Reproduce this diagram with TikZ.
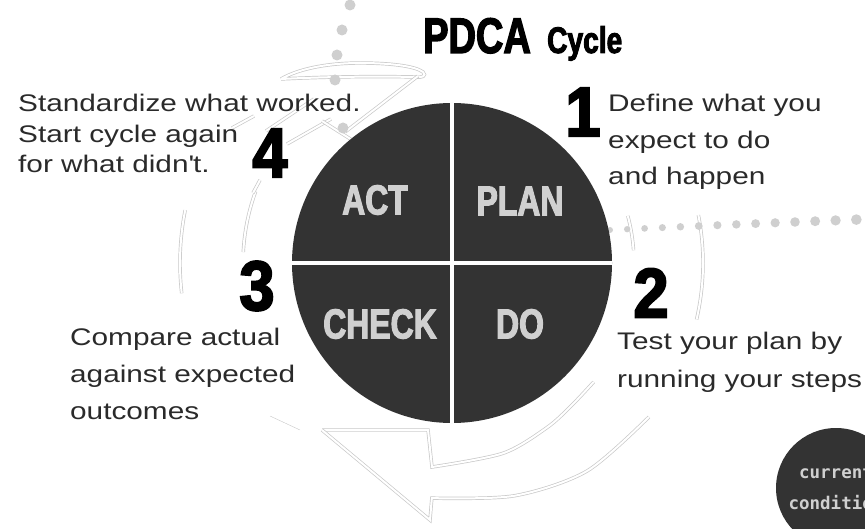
\documentclass[tikz,border=0pt]{standalone}
\usepackage{fontspec}
\usepackage{tikz}
\usetikzlibrary{calc}
\setmainfont{Liberation Sans}
\newfontfamily\bodyfont{Liberation Sans}[FakeStretch=1.24]
\newfontfamily\heavyfont{Liberation Sans}[FakeStretch=0.76,FakeBold=2.5]
\newfontfamily\digitfont{Liberation Sans}[FakeStretch=0.9,FakeBold=3]
\newfontfamily\chalkfont{DejaVu Sans Mono}

\definecolor{disc}{HTML}{333333}
\definecolor{caption}{HTML}{D0D0D0}
\definecolor{faint}{HTML}{C8C8C8}
\definecolor{dots}{HTML}{CFCFCF}
\definecolor{ink}{HTML}{2A2A2A}

\tikzset{
  swirl/.style={draw=faint, double=white, double distance=2pt, line width=.7pt},
  quarter/.style={text=caption, inner sep=0pt, font=\heavyfont\bfseries\fontsize{42}{42}\selectfont},
  stepnum/.style={inner sep=0pt, font=\digitfont\bfseries\fontsize{70}{70}\selectfont},
  note/.style={anchor=base west, align=left, text=ink, inner sep=0pt},
}

\begin{document}
\begin{tikzpicture}[x=1pt,y=-1pt]
  \useasboundingbox (0,0) rectangle (865,529);
  \clip (0,0) rectangle (865,529);
  \coordinate (c) at (452,263);

  % faded cycle arrows behind the disc
  \begin{scope}[shift={(c)}]
    \draw[swirl] (-130,167) -- (-24,167) -- plot[smooth] coordinates {(95.6:205) (75:197) (60:190) (50:186) (40:185)};
    \draw[swirl] (-130,167) -- (-22,257) -- plot[smooth] coordinates {(94.9:236) (75:241) (57:248) (38:250)};
    \draw[swirl] (-15:182) arc[start angle=-15, end angle=-4, radius=182];
    \draw[swirl] (-11:251) arc[start angle=-11, end angle=13, radius=251];
    \draw[swirl] (173.6:272) arc[start angle=173.6, end angle=191.2, radius=272];
    \draw[swirl] (183:209) arc[start angle=183, end angle=200, radius=209];
  \end{scope}
  \draw[swirl] (281,79) .. controls (300,68) and (330,63) .. (360,63)
    .. controls (390,63) and (415,66) .. (423,72)
    .. controls (427,76) and (422,78) .. (415,77)
    .. controls (370,76) and (320,77) .. (281,79);
  \foreach \a/\b in {{232,128}/{254,116}, {266,131}/{314,99}, {287,144}/{331,119},
                     {345,132}/{418,76}, {322,121}/{352,140}, {253,193}/{260,180}}
    \draw[swirl] (\a) -- (\b);
  \draw[faint] (270,416) -- (300,430);

  % dotted trails
  \foreach \x/\y in {350/5, 342/30, 337/55, 335/80, 343/128}
    \fill[dots] (\x,\y) circle (5.5);
  \foreach \i in {0,...,15}
    \fill[dots] ({610+17*\i+0.15*\i*\i},{230-0.8*\i}) circle ({3+0.18*\i});

  % the disc and its quarters
  \node[circle, fill=disc, minimum size=320pt, inner sep=0pt] (disc) at (c) {};
  \draw[white, line width=4pt] (disc.north) -- (disc.south);
  \draw[white, line width=4pt] (disc.west) -- (disc.east);
  \node[quarter] (act) at (375,200) {ACT};
  \node[quarter] (plan) at (520,201) {PLAN};
  \node[quarter] (check) at (380,324) {CHECK};
  \node[quarter] (do) at (520,324) {DO};

  % title
  \node[anchor=base west, inner sep=0pt, font=\heavyfont\bfseries\fontsize{50}{50}\selectfont] (title) at (423,53) {PDCA};
  \node[anchor=base west, inner sep=0pt, font=\heavyfont\bfseries\fontsize{37}{37}\selectfont] (subtitle) at (547,53) {Cycle};

  % step numbers and notes (base = last line)
  \node[stepnum] (n1) at (583,112) {1};
  \node[stepnum] (n2) at (651,293) {2};
  \node[stepnum] (n3) at (257,286) {3};
  \node[stepnum] (n4) at (270,153) {4};
  \node[note, font=\bodyfont\fontsize{24}{36.5}\selectfont] (plan-note) at (608,185)
    {Define what you\\expect to do\\and happen};
  \node[note, font=\bodyfont\fontsize{24}{37}\selectfont] (do-note) at (617,387)
    {Test your plan by\\running your steps};
  \node[note, font=\bodyfont\fontsize{24}{37}\selectfont] (check-note) at (70,419)
    {Compare actual\\against expected\\outcomes};
  \node[note, font=\bodyfont\fontsize{24}{30.5}\selectfont] (act-note) at (18,173)
    {Standardize what worked.\\Start cycle again\\for what didn\textquotesingle t.};

  \node[circle, fill=disc, minimum size=120pt, inner sep=0pt, align=center, text=caption,
        font=\chalkfont\bfseries\fontsize{17.5}{31}\selectfont] (current) at (836,488)
    {current\\condition};
\end{tikzpicture}
\end{document}
